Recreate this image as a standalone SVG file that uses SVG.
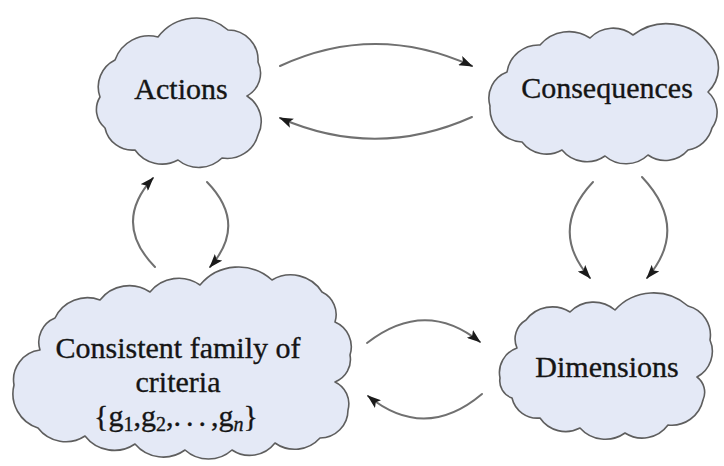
<svg xmlns="http://www.w3.org/2000/svg" width="724" height="466" viewBox="0 0 724 466">
  <style>
    .cloud { fill: #e4e9f6; stroke: #5e5e5e; stroke-width: 1.6; stroke-linejoin: round; }
    .link { fill: none; stroke: #707070; stroke-width: 2; stroke-linecap: round; marker-end: url(#head); }
  </style>
  <defs>
    <marker id="head" viewBox="0 0 14 10" refX="13" refY="5" markerWidth="14" markerHeight="10" markerUnits="userSpaceOnUse" orient="auto">
      <path d="M0,0 L14,5 L0,10 L3,5 Z" fill="#1a1a1a"/>
    </marker>
  </defs>
  <rect width="724" height="466" fill="#ffffff"/>

  <!-- connectors -->
  <g id="connectors">
    <path class="link" d="M280,66 Q375,22 472,66"/>
    <path class="link" d="M472,117 Q376,160 280,118"/>
    <path class="link" d="M155,267 Q112,223 153,178"/>
    <path class="link" d="M207,182 Q248,224 210,267"/>
    <path class="link" d="M593,182 Q548,230 590,278"/>
    <path class="link" d="M642,177 Q690,228 647,278"/>
    <path class="link" d="M367,343 Q425,298 480,342"/>
    <path class="link" d="M482,394 Q425,442 368,396"/>
  </g>

  <!-- node labels share one text style -->
  <g font-family="Liberation Serif" font-size="30" fill="#151515" stroke="#151515" stroke-width="0.35" text-anchor="middle">
    <!-- Actions -->
    <g id="actions">
      <path class="cloud" d="M100,97 A30,30 0 0 1 115,60 A36,36 0 0 1 158,37 A48,48 0 0 1 228,30 A30,30 0 0 1 258,62 A26,26 0 0 1 247,96 A30,30 0 0 1 258,135 A32,32 0 0 1 222,158 A33,33 0 0 1 178,160 A33,33 0 0 1 135,150 A28,28 0 0 1 105,128 A24,24 0 0 1 100,97 Z"/>
      <text x="181" y="99">Actions</text>
    </g>

    <!-- Consequences -->
    <g id="consequences">
      <path class="cloud" d="M490,106 A28,28 0 0 1 507,72 A32,32 0 0 1 540,45 A38,38 0 0 1 590,38 A32,32 0 0 1 633,35 A55,55 0 0 1 710,45 A34,34 0 0 1 708,92 A27,27 0 0 1 712,128 A30,30 0 0 1 688,150 A30,30 0 0 1 648,155 A32,32 0 0 1 605,156 A32,32 0 0 1 562,150 A31,31 0 0 1 522,142 A34,34 0 0 1 490,106 Z"/>
      <text x="607" y="98">Consequences</text>
    </g>

    <!-- Consistent family of criteria -->
    <g id="criteria">
      <path class="cloud" d="M14,385 A30,30 0 0 1 40,350 A26,26 0 0 1 55,318 A36,36 0 0 1 100,300 A37,37 0 0 1 150,292 A37,37 0 0 1 200,285 A50,50 0 0 1 272,280 A37,37 0 0 1 322,292 A25,25 0 0 1 335,322 A27,27 0 0 1 350,355 A24,24 0 0 1 335,382 A24,24 0 0 1 348,410 A28,28 0 0 1 320,438 A34,34 0 0 1 275,443 A32,32 0 0 1 232,450 A35,35 0 0 1 185,450 A37,37 0 0 1 135,444 A37,37 0 0 1 85,436 A35,35 0 0 1 38,428 A36,36 0 0 1 14,385 Z"/>
      <text x="178" y="358">Consistent family of</text>
      <text x="178" y="392">criteria</text>
      <text x="176" y="426">{g<tspan font-size="20" dy="5">1</tspan><tspan dy="-5">,g</tspan><tspan font-size="20" dy="5">2</tspan><tspan dy="-5">,</tspan><tspan letter-spacing="5">...</tspan><tspan>,g</tspan><tspan font-size="20" font-style="italic" dy="5">n</tspan><tspan dy="-5">}</tspan></text>
    </g>

    <!-- Dimensions -->
    <g id="dimensions">
      <path class="cloud" d="M500,378 A26,26 0 0 1 517,348 A22,22 0 0 1 526,320 A33,33 0 0 1 570,312 A33,33 0 0 1 615,310 A52,52 0 0 1 688,306 A30,30 0 0 1 710,340 A29,29 0 0 1 697,377 A19,19 0 0 1 703,400 A32,32 0 0 1 668,425 A32,32 0 0 1 625,433 A34,34 0 0 1 580,428 A31,31 0 0 1 540,418 A26,26 0 0 1 512,398 A18,18 0 0 1 500,378 Z"/>
      <text x="607" y="377">Dimensions</text>
    </g>
  </g>
</svg>
